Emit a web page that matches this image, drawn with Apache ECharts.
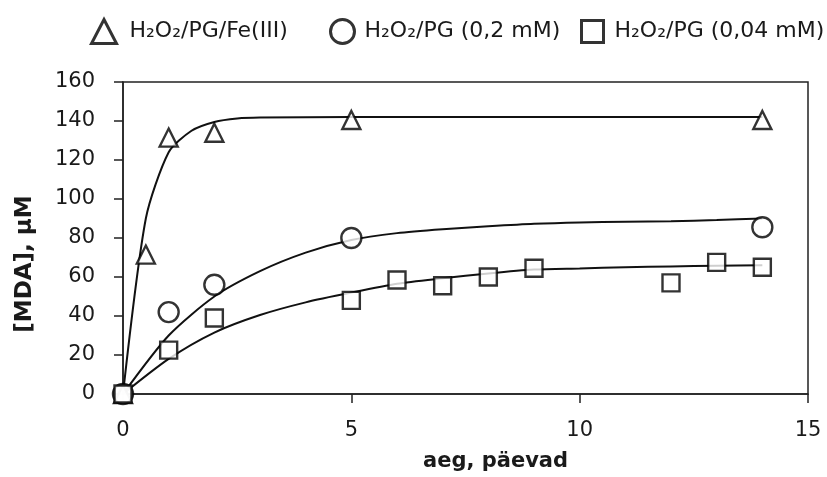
<!DOCTYPE html>
<html>
<head>
<meta charset="utf-8">
<script src="https://cdn.jsdelivr.net/npm/echarts@6/dist/echarts.min.js"></script>
<style>
html,body{margin:0;padding:0;background:#fff;}
#chart{width:827px;height:477px;}
</style>
</head>
<body>
<div id="chart"></div>
<script>
// ---- data ----
const seriesNames = ['H₂O₂/PG/Fe(III)', 'H₂O₂/PG (0,2 mM)', 'H₂O₂/PG (0,04 mM)'];

// measured points [day, MDA µM]
const feDays = [0, 0.5, 1, 2, 5, 14];
const feVals = [0, 71.5, 131.5, 134, 140.5, 140.5];

const pg02Days = [0, 1, 2, 5, 14];
const pg02Vals = [0, 42, 56, 80, 85.5];

const pg004Days = [0, 1, 2, 5, 6, 7, 8, 9, 12, 13, 14];
const pg004Vals = [0, 22.5, 39, 48, 58.5, 55.5, 60, 64.5, 57, 67.5, 65];

// fitted curves
const feFitDays = [0, 0.5, 1, 1.5, 2, 2.5, 3, 5, 14];
const feFitVals = [0, 90, 124, 135, 139.5, 141.3, 141.8, 142, 142];

const pg02FitDays = [0, 1, 2, 3, 4, 5, 6, 7, 8, 9, 10, 11, 12, 13, 14];
const pg02FitVals = [0, 30, 50, 63, 72.5, 79, 82.5, 84.5, 86, 87.3, 88, 88.3, 88.6, 89.2, 90];

const pg004FitDays = [0, 1, 2, 3, 4, 5, 6, 7, 8, 9, 10, 11, 12, 13, 14];
const pg004FitVals = [0, 18, 31.5, 40.5, 47, 52, 56.5, 59.3, 61.8, 63.8, 64.4, 65, 65.4, 65.8, 66];

// axis ticks
const xTicks = [0, 5, 10, 15];
const yTicks = [0, 20, 40, 60, 80, 100, 120, 140, 160];

const xAxisTitle = 'aeg, päevad';
const yAxisTitle = '[MDA], µM';

// ---- build ----
const pair = (xs, ys) => xs.map((x, i) => [x, ys[i]]);
const FONT = '"DejaVu Sans", sans-serif';
const TXT = '#1a1a1a';
const AX = '#222';

const markerStyle = { color: '#fff', borderColor: '#000', borderWidth: 2.4 };

function fitSeries(name, xs, ys) {
  return {
    name: name, type: 'line', data: pair(xs, ys),
    showSymbol: false, symbol: 'none', smooth: 0.25,
    lineStyle: { color: '#111', width: 2 },
    z: 2, silent: true, animation: false
  };
}
function pointSeries(name, symbol, size, xs, ys) {
  return {
    name: name, type: 'scatter', data: pair(xs, ys),
    symbol: symbol, symbolSize: size,
    itemStyle: markerStyle, z: 5, animation: false
  };
}
function legendFor(name, icon, left, top, w, h, pad) {
  return {
    left: left, top: top, itemWidth: w, itemHeight: h, padding: 0,
    data: [{ name: name, icon: icon,
             itemStyle: { color: '#fff', borderColor: '#000', borderWidth: 3 } }],
    textStyle: { fontFamily: FONT, fontSize: 22, color: TXT, padding: [0, 0, 0, pad] }
  };
}

const chart = echarts.init(document.getElementById('chart'), null, { renderer: 'canvas' });
chart.setOption({
  backgroundColor: '#fff',
  animation: false,
  grid: { left: 123, right: 19, top: 82, bottom: 82, show: true,
          borderColor: AX, borderWidth: 1.5, backgroundColor: 'transparent' },
  legend: [
    legendFor(seriesNames[0], 'triangle', 90, 18, 25, 24, 8),
    legendFor(seriesNames[1], 'circle', 329, 18, 24, 24, 5),
    legendFor(seriesNames[2], 'rect', 580, 19, 22, 22, 6)
  ],
  xAxis: {
    type: 'value', min: xTicks[0], max: xTicks[xTicks.length - 1], interval: 5,
    axisLine: { show: true, lineStyle: { color: AX, width: 1.5 } },
    axisTick: { show: true, inside: false, length: 9, lineStyle: { color: AX, width: 1.5 } },
    splitLine: { show: false },
    axisLabel: { color: TXT, fontFamily: FONT, fontSize: 21, margin: 26 },
    name: xAxisTitle, nameLocation: 'middle', nameGap: 57,
    nameTextStyle: { fontFamily: FONT, fontSize: 21, fontWeight: 'bold', color: TXT, padding: [0, 0, 0, 60] }
  },
  yAxis: {
    type: 'value', min: yTicks[0], max: yTicks[yTicks.length - 1], interval: 20,
    axisLine: { show: true, lineStyle: { color: AX, width: 1.5 } },
    axisTick: { show: true, inside: false, length: 9, lineStyle: { color: AX, width: 1.5 } },
    splitLine: { show: false },
    axisLabel: { color: TXT, fontFamily: FONT, fontSize: 21, margin: 28 },
    name: yAxisTitle, nameLocation: 'middle', nameGap: 86, nameRotate: 90,
    nameTextStyle: { fontFamily: FONT, fontSize: 23, fontWeight: 'bold', color: TXT, padding: [0, 52, 0, 0] }
  },
  series: [
    fitSeries('fit-fe', feFitDays, feFitVals),
    fitSeries('fit-02', pg02FitDays, pg02FitVals),
    fitSeries('fit-004', pg004FitDays, pg004FitVals),
    pointSeries(seriesNames[0], 'triangle', [18, 18], feDays, feVals),
    pointSeries(seriesNames[1], 'circle', 20, pg02Days, pg02Vals),
    pointSeries(seriesNames[2], 'rect', 17, pg004Days, pg004Vals)
  ]
});
</script>
</body>
</html>
